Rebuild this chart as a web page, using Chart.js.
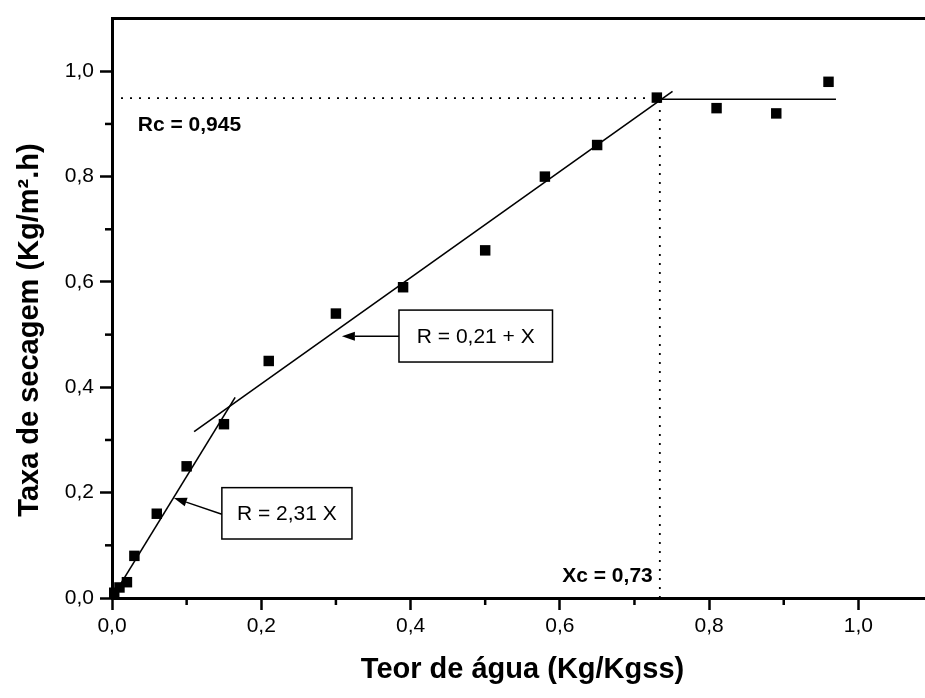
<!DOCTYPE html>
<html>
<head>
<meta charset="utf-8">
<script src="https://cdn.jsdelivr.net/npm/chart.js@4.4.1/dist/chart.umd.min.js"></script>
<style>
  html, body { margin: 0; padding: 0; background: #fff; overflow: hidden; }
  #wrap { width: 945px; height: 698px; }
</style>
</head>
<body>
<div id="wrap"><canvas id="myChart" width="945" height="698"></canvas></div>
<script>
// data
const moistureX = [0.003, 0.01, 0.02, 0.03, 0.06, 0.10, 0.15, 0.21, 0.30, 0.39, 0.50, 0.58, 0.65, 0.73, 0.81, 0.89, 0.96];
const dryingRate = [0.01, 0.02, 0.03, 0.08, 0.16, 0.25, 0.33, 0.45, 0.54, 0.59, 0.66, 0.80, 0.86, 0.95, 0.93, 0.92, 0.98];

// fitted segments (end points)
const fallingFitX = [0.003, 0.165];
const fallingFitY = [0.007, 0.381];
const middleFitX = [0.11, 0.751];
const middleFitY = [0.316, 0.962];
const constantFitX = [0.73, 0.97];
const constantFitY = [0.947, 0.947];

// critical point guides
const criticalX = 0.734;
const criticalR = 0.949;

// ticks
const majorTicks = [0, 0.2, 0.4, 0.6, 0.8, 1.0];
const minorTicks = [0.1, 0.3, 0.5, 0.7, 0.9];

const xTitle = 'Teor de água (Kg/Kgss)';
const yTitle = 'Taxa de secagem (Kg/m².h)';

const font = "'Liberation Sans', Arial, sans-serif";

const pts = (xs, ys) => xs.map((x, i) => ({ x: x, y: ys[i] }));
const comma = v => (Math.round(v * 10) / 10).toFixed(1).replace('.', ',');

// annotations: positions in data units
const notes = {
  rc: { text: 'Rc = 0,945', x: 0.0346, y: 0.887, align: 'left' },
  xc: { text: 'Xc = 0,73', x: 0.7245, y: 0.0297, align: 'right' },
  boxes: [
    { text: 'R = 0,21 + X', x0: 0.3845, x1: 0.5902, y0: 0.448, y1: 0.5466,
      from: [0.3845, 0.497], to: [0.308, 0.497] },
    { text: 'R = 2,31 X', x0: 0.1472, x1: 0.3215, y0: 0.112, y1: 0.2095,
      from: [0.1472, 0.159], to: [0.0829, 0.190] }
  ]
};

const minorTickPlugin = {
  id: 'minorTicks',
  afterDraw(chart) {
    const { ctx } = chart;
    const xs = chart.scales.x, ys = chart.scales.y;
    const area = chart.chartArea;
    ctx.save();
    ctx.strokeStyle = '#000';
    ctx.lineWidth = 2.5;
    minorTicks.forEach(v => {
      const px = xs.getPixelForValue(v);
      ctx.beginPath(); ctx.moveTo(px, area.bottom); ctx.lineTo(px, area.bottom + 7); ctx.stroke();
      const py = ys.getPixelForValue(v);
      ctx.beginPath(); ctx.moveTo(area.left, py); ctx.lineTo(area.left - 7, py); ctx.stroke();
    });
    ctx.restore();
  }
};

// y title sits a little below the axis centre in the original
const yTitlePlugin = {
  id: 'yTitle',
  afterDraw(chart) {
    const { ctx } = chart;
    ctx.save();
    ctx.translate(38, 330);
    ctx.rotate(-Math.PI / 2);
    ctx.font = 'bold 29px ' + font;
    ctx.fillStyle = '#000';
    ctx.textAlign = 'center';
    ctx.textBaseline = 'alphabetic';
    ctx.fillText(yTitle, 0, 0);
    ctx.restore();
  }
};

const notesPlugin = {
  id: 'notes',
  afterDatasetsDraw(chart) {
    const { ctx } = chart;
    const X = v => chart.scales.x.getPixelForValue(v);
    const Y = v => chart.scales.y.getPixelForValue(v);
    ctx.save();
    ctx.fillStyle = '#000';
    ctx.strokeStyle = '#000';
    ctx.font = 'bold 21px ' + font;
    ctx.textBaseline = 'alphabetic';
    [notes.rc, notes.xc].forEach(n => {
      ctx.textAlign = n.align;
      ctx.fillText(n.text, X(n.x), Y(n.y));
    });
    ctx.font = '21px ' + font;
    notes.boxes.forEach(b => {
      const l = X(b.x0), r = X(b.x1), t = Y(b.y1), bt = Y(b.y0);
      ctx.fillStyle = '#fff';
      ctx.fillRect(l, t, r - l, bt - t);
      ctx.lineWidth = 1.5;
      ctx.strokeRect(l, t, r - l, bt - t);
      ctx.fillStyle = '#000';
      ctx.textAlign = 'center';
      ctx.textBaseline = 'middle';
      ctx.fillText(b.text, (l + r) / 2, (t + bt) / 2 + 1);
      // arrow
      const fx = X(b.from[0]), fy = Y(b.from[1]);
      const tx = X(b.to[0]), ty = Y(b.to[1]);
      const ang = Math.atan2(ty - fy, tx - fx);
      const head = 13, half = 4.5;
      const bx = tx - head * Math.cos(ang), by = ty - head * Math.sin(ang);
      ctx.beginPath(); ctx.moveTo(fx, fy); ctx.lineTo(bx, by); ctx.stroke();
      ctx.beginPath();
      ctx.moveTo(tx, ty);
      ctx.lineTo(bx + half * Math.sin(ang), by - half * Math.cos(ang));
      ctx.lineTo(bx - half * Math.sin(ang), by + half * Math.cos(ang));
      ctx.closePath(); ctx.fill();
    });
    ctx.restore();
  }
};

const lineSet = (data, extra) => Object.assign({
  data: data,
  showLine: true,
  borderColor: '#000',
  borderWidth: 1.6,
  pointRadius: 0,
  fill: false
}, extra);

const data = {
  datasets: [
    {
      label: 'Taxa de secagem',
      data: pts(moistureX, dryingRate),
      pointStyle: 'rect',
      pointRadius: 7.4,
      backgroundColor: '#000',
      borderWidth: 0,
      showLine: false,
      clip: false
    },
    lineSet(pts(fallingFitX, fallingFitY)),
    lineSet(pts(middleFitX, middleFitY)),
    lineSet(pts(constantFitX, constantFitY)),
    lineSet([{ x: 0, y: criticalR }, { x: criticalX, y: criticalR }], { borderDash: [2, 7], borderWidth: 1.8 }),
    lineSet([{ x: criticalX, y: 0 }, { x: criticalX, y: criticalR }], { borderDash: [2, 7], borderWidth: 1.8 })
  ]
};

const config = {
  type: 'scatter',
  data,
  options: {
    responsive: false,
    animation: false,
    layout: { padding: { left: 0, top: 9, right: 12, bottom: 0 } },
    scales: {
      x: {
        type: 'linear',
        min: 0,
        max: 1.1,
        afterFit: s => { s.height = 100; },
        afterBuildTicks: s => { s.ticks = majorTicks.map(v => ({ value: v })); },
        border: { color: '#000', width: 3 },
        grid: { drawOnChartArea: false, tickLength: 12, tickWidth: 2.5, tickColor: '#000' },
        ticks: {
          color: '#000',
          padding: 4,
          maxRotation: 0,
          autoSkip: false,
          font: { size: 21, family: font },
          callback: v => comma(v)
        },
        title: {
          display: true,
          text: xTitle,
          color: '#000',
          padding: { top: 0, bottom: 11 },
          font: { size: 29, weight: 'bold', family: font }
        }
      },
      xTop: {
        type: 'linear',
        position: 'top',
        min: 0,
        max: 1.1,
        afterFit: s => { s.height = 0; },
        ticks: { display: false },
        grid: { display: false, drawTicks: false },
        border: { color: '#000', width: 3 }
      },
      y: {
        type: 'linear',
        min: 0,
        max: 1.1,
        afterFit: s => { s.width = 112; },
        afterBuildTicks: s => { s.ticks = majorTicks.map(v => ({ value: v })); },
        border: { color: '#000', width: 3 },
        grid: { drawOnChartArea: false, tickLength: 12, tickWidth: 2.5, tickColor: '#000' },
        ticks: {
          color: '#000',
          padding: 6,
          font: { size: 21, family: font },
          callback: v => comma(v)
        },
        title: { display: false }
      }
    },
    plugins: {
      legend: { display: false },
      tooltip: { enabled: false }
    }
  },
  plugins: [minorTickPlugin, yTitlePlugin, notesPlugin]
};

const myChart = new Chart(document.getElementById('myChart'), config);
</script>
</body>
</html>
